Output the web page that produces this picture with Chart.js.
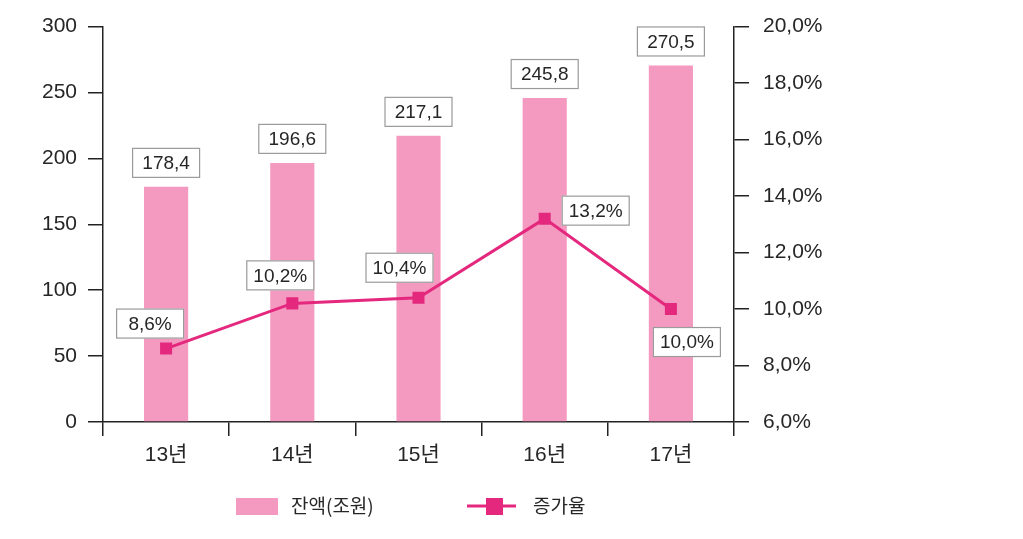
<!DOCTYPE html>
<html>
<head>
<meta charset="utf-8">
<script src="https://cdn.jsdelivr.net/npm/chart.js@4"></script>
<style>
  html, body { margin: 0; padding: 0; background: #ffffff; }
  #wrap { width: 1023px; height: 539px; position: relative; }
</style>
</head>
<body>
<div id="wrap"><canvas id="c" width="1023" height="539"></canvas></div>
<script>
const categories = ['13년', '14년', '15년', '16년', '17년'];
const balanceValues = [178.4, 196.6, 217.1, 245.8, 270.5];
const growthRates = [8.6, 10.2, 10.4, 13.2, 10.0];
const leftTicks = [0, 50, 100, 150, 200, 250, 300];
const rightTicks = [6, 8, 10, 12, 14, 16, 18, 20];
const balanceLabel = '잔액(조원)';
const growthLabel = '증가율';

const FONT = '"Liberation Sans", "Noto Sans CJK KR", sans-serif';
const KFONT = '"Noto Sans CJK KR", "Liberation Sans", sans-serif';
const BAR_COLOR = '#F49AC0';
const LINE_COLOR = '#E3287E';
const TEXT_COLOR = '#262626';
const fmt = v => v.toFixed(1).replace('.', ',');

// label box offsets (pixels, box centre relative to mark)
const lineLabelOffsets = [[-16, -25], [-12, -28], [-19, -30], [51, -8], [16, 33]];

const labelPlugin = {
  id: 'labelPlugin',
  afterDatasetsDraw(chart) {
    const ctx = chart.ctx;
    ctx.save();
    ctx.font = '19px ' + FONT;
    ctx.textAlign = 'center';
    ctx.textBaseline = 'middle';
    const drawBox = (cx, cy, text) => {
      const w = 68, h = 30;
      ctx.fillStyle = '#ffffff';
      ctx.fillRect(cx - w / 2, cy - h / 2, w, h);
      ctx.strokeStyle = '#9a9a9a';
      ctx.lineWidth = 1.2;
      ctx.strokeRect(cx - w / 2 + 0.5, cy - h / 2 + 0.5, w - 1, h - 1);
      ctx.fillStyle = TEXT_COLOR;
      ctx.fillText(text, cx, cy + 1);
    };
    const barMeta = chart.getDatasetMeta(0);
    barMeta.data.forEach((el, i) => {
      drawBox(el.x, el.y - 24, fmt(balanceValues[i]));
    });
    const lineMeta = chart.getDatasetMeta(1);
    lineMeta.data.forEach((el, i) => {
      const o = lineLabelOffsets[i];
      drawBox(el.x + o[0], el.y + o[1], fmt(growthRates[i]) + '%');
    });

    // legend
    ctx.font = '19px ' + KFONT;
    ctx.fillStyle = BAR_COLOR;
    ctx.fillRect(236, 498, 42, 17);
    ctx.fillStyle = TEXT_COLOR;
    ctx.textAlign = 'left';
    ctx.fillText(balanceLabel, 291, 506);
    ctx.strokeStyle = LINE_COLOR;
    ctx.lineWidth = 3;
    ctx.beginPath();
    ctx.moveTo(467, 506);
    ctx.lineTo(516, 506);
    ctx.stroke();
    ctx.fillStyle = LINE_COLOR;
    ctx.fillRect(486, 498, 17, 17);
    ctx.fillStyle = TEXT_COLOR;
    ctx.fillText(growthLabel, 533, 506);
    ctx.restore();
  }
};

new Chart(document.getElementById('c'), {
  data: {
    labels: categories,
    datasets: [
      {
        type: 'bar',
        label: balanceLabel,
        data: balanceValues,
        backgroundColor: BAR_COLOR,
        borderWidth: 0,
        yAxisID: 'y',
        barPercentage: 0.35,
        categoryPercentage: 1.0,
        order: 2
      },
      {
        type: 'line',
        label: growthLabel,
        data: growthRates,
        borderColor: LINE_COLOR,
        backgroundColor: LINE_COLOR,
        borderWidth: 3,
        pointStyle: 'rect',
        pointRadius: 8.5,
        pointBorderWidth: 0,
        pointBackgroundColor: LINE_COLOR,
        tension: 0,
        yAxisID: 'y1',
        order: 1
      }
    ]
  },
  options: {
    responsive: false,
    animation: false,
    devicePixelRatio: 1,
    layout: { padding: { top: 26, left: 0, right: 0, bottom: 0 } },
    plugins: {
      legend: { display: false },
      tooltip: { enabled: false }
    },
    scales: {
      x: {
        offset: true,
        grid: {
          offset: true,
          drawOnChartArea: false,
          drawTicks: true,
          tickLength: 14,
          color: '#222',
          lineWidth: 1.5
        },
        border: { display: true, color: '#222', width: 1.5 },
        ticks: {
          color: TEXT_COLOR,
          font: { family: FONT, size: 21 },
          padding: 7
        },
        afterFit(scale) { scale.height = 117; }
      },
      y: {
        position: 'left',
        min: 0,
        max: 300,
        afterBuildTicks(scale) { scale.ticks = leftTicks.map(v => ({ value: v })); },
        grid: {
          drawOnChartArea: false,
          drawTicks: true,
          tickLength: 15,
          color: '#222',
          lineWidth: 1.5
        },
        border: { display: true, color: '#222', width: 1.5 },
        ticks: {
          color: TEXT_COLOR,
          font: { family: FONT, size: 21 },
          padding: 11,
          callback: v => String(v)
        },
        afterFit(scale) { scale.width = 103; }
      },
      y1: {
        position: 'right',
        min: 6,
        max: 20,
        afterBuildTicks(scale) { scale.ticks = rightTicks.map(v => ({ value: v })); },
        grid: {
          drawOnChartArea: false,
          drawTicks: true,
          tickLength: 15,
          color: '#222',
          lineWidth: 1.5
        },
        border: { display: true, color: '#222', width: 1.5 },
        ticks: {
          color: TEXT_COLOR,
          font: { family: FONT, size: 21 },
          padding: 14,
          callback: v => fmt(v) + '%'
        },
        afterFit(scale) { scale.width = 289; }
      }
    }
  },
  plugins: [labelPlugin]
});
</script>
</body>
</html>
